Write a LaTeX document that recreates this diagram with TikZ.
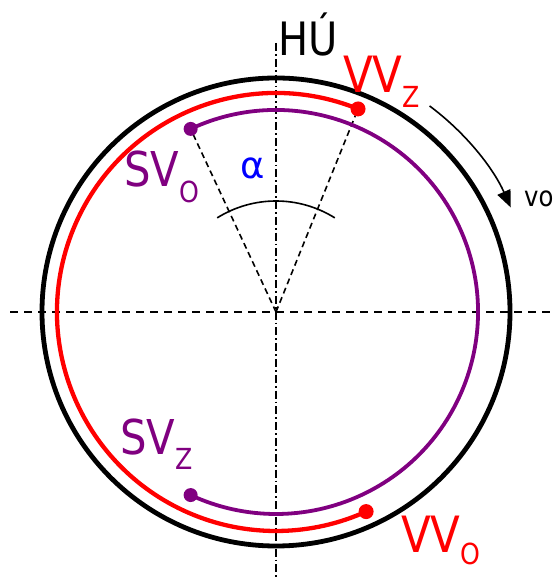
\documentclass[tikz,border=0pt]{standalone}
\usepackage{fontspec}
\setmainfont{DejaVu Sans}
\newfontfamily\cond[FakeStretch=0.87]{DejaVu Sans}
\usetikzlibrary{arrows.meta}
\definecolor{vred}{RGB}{255,0,0}
\definecolor{vpurple}{RGB}{128,0,128}
\definecolor{vblue}{RGB}{0,0,255}
\tikzset{
  axisdash/.style={line width=1.8pt, dash pattern=on 8pt off 6pt},
  axisdashdot/.style={line width=1.8pt, dash pattern=on 8pt off 3pt on 1.8pt off 3pt},
  raddash/.style={line width=1.6pt, dash pattern=on 6pt off 4pt},
  ring/.style={line width=4.8pt},
  redline/.style={vred, line width=4.3pt},
  purpleline/.style={vpurple, line width=3.8pt},
  thinline/.style={line width=1.6pt},
  lbl/.style={inner sep=0pt, anchor=base west},
  big/.style={font=\cond\fontsize{48}{48}\selectfont},
  bigv/.style={font=\cond\fontsize{50}{50}\selectfont},
}
\newcommand{\subtxt}[2]{\raisebox{-#1}{\fontsize{29}{29}\selectfont #2}}
\begin{document}
\begin{tikzpicture}[x=1pt,y=1pt]
\useasboundingbox (0,0) rectangle (558,579);
\coordinate (O) at (276,267);
% axes
\coordinate (hl) at (10,267);
\coordinate (hr) at (550,267);
\coordinate (vt) at (276,536);
\coordinate (vb) at (276,0);
\draw[axisdash] (hl) -- (hr);
\draw[axisdashdot] (vt) -- (vb);
% outer ring
\draw[ring] (O) circle (234);
% points
\coordinate (vvz) at ([shift={(68:219)}]O);
\coordinate (vvo) at ([shift={(294.3:219)}]O);
\coordinate (svo) at ([shift={(115:202)}]O);
\coordinate (svz) at ([shift={(-115:202)}]O);
% radial dashed lines
\draw[raddash] (O) -- (svo);
\draw[raddash] (O) -- (vvz);
% red arc
\draw[redline] (vvz) arc[start angle=68, end angle=294.3, radius=219];
% purple arc
\draw[purpleline] (svo) arc[start angle=115, end angle=-115, radius=202];
% dots
\fill[vred] (vvz) circle (7.5);
\fill[vred] (vvo) circle (7.5);
\fill[vpurple] (svo) circle (7);
\fill[vpurple] (svz) circle (7);
% angle arc
\coordinate (a1) at ([shift={(58:111)}]O);
\draw[thinline] (a1) arc[start angle=58, end angle=122, radius=111];
% direction arrow
\coordinate (r1) at ([shift={(53.3:257)}]O);
\draw[thinline, -{Triangle[length=17pt,width=14pt]}] (r1) arc[start angle=53.3, end angle=24, radius=257];
% labels
\node[lbl, font=\cond\fontsize{46}{46}\selectfont] (hu) at (278,523) {HÚ};
\node[lbl, bigv, text=vred] (vvzl) at (343,486) {VV\subtxt{15pt}{Z}};
\node[lbl, bigv, text=vred] (vvol) at (401,27) {VV\subtxt{13pt}{O}};
\node[lbl, big, text=vpurple] (svol) at (124,392) {SV\subtxt{16pt}{O}};
\node[lbl, big, text=vpurple] (svzl) at (120,124) {SV\subtxt{15pt}{Z}};
\node[lbl, font=\cond\fontsize{28}{28}\selectfont] (vol) at (524,372) {vo};
\node[inner sep=0pt, text=vblue, font=\fontsize{37}{37}\selectfont] (alpha) at (252.5,411) {α};
\end{tikzpicture}
\end{document}
